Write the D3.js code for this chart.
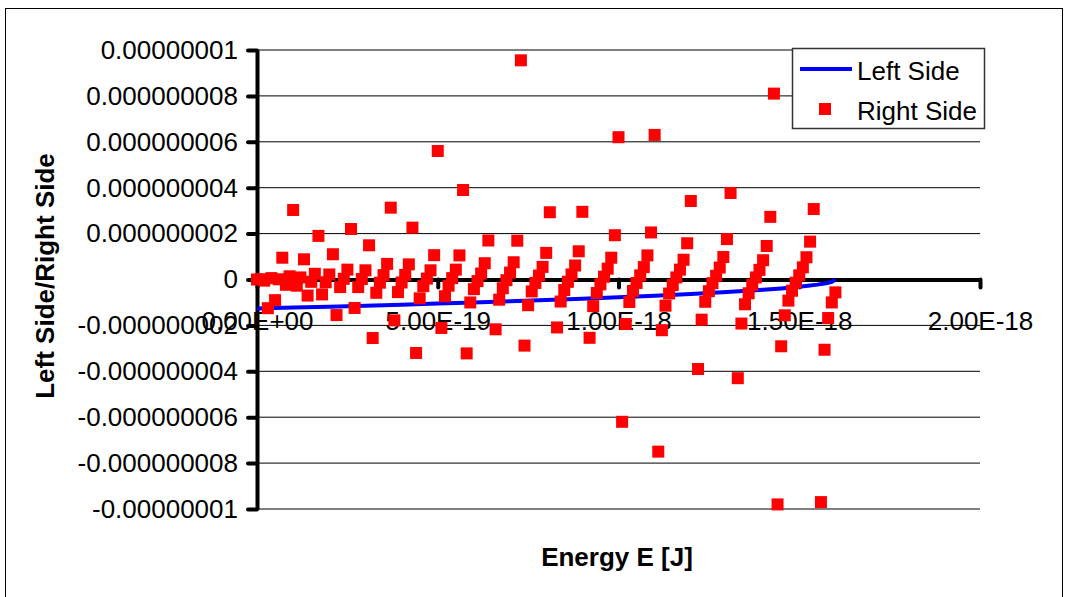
<!DOCTYPE html>
<html>
<head>
<meta charset="utf-8">
<script src="https://cdn.jsdelivr.net/npm/d3@7"></script>
<style>
  body { margin: 0; background: #fff; }
  svg text { font-family: Arial, "Liberation Sans", sans-serif; fill: #000; }
</style>
</head>
<body>
<script>
//DATA (energy in units of 1e-18 J, sides in units of 1e-9)
const energy = [
  0.00,0.01,0.02,0.03,0.04,0.05,0.06,0.07,0.08,0.09,
  0.10,0.11,0.12,0.13,0.14,0.15,0.16,0.17,0.18,0.19,
  0.20,0.21,0.22,0.23,0.24,0.25,0.26,0.27,0.28,0.29,
  0.30,0.31,0.32,0.33,0.34,0.35,0.36,0.37,0.38,0.39,
  0.40,0.41,0.42,0.43,0.44,0.45,0.46,0.47,0.48,0.49,
  0.50,0.51,0.52,0.53,0.54,0.55,0.56,0.57,0.58,0.59,
  0.60,0.61,0.62,0.63,0.64,0.65,0.66,0.67,0.68,0.69,
  0.70,0.71,0.72,0.73,0.74,0.75,0.76,0.77,0.78,0.79,
  0.80,0.81,0.82,0.83,0.84,0.85,0.86,0.87,0.88,0.89,
  0.90,0.91,0.92,0.93,0.94,0.95,0.96,0.97,0.98,0.99,
  1.00,1.01,1.02,1.03,1.04,1.05,1.06,1.07,1.08,1.09,
  1.10,1.11,1.12,1.13,1.14,1.15,1.16,1.17,1.18,1.19,
  1.20,1.21,1.22,1.23,1.24,1.25,1.26,1.27,1.28,1.29,
  1.30,1.31,1.32,1.33,1.34,1.35,1.36,1.37,1.38,1.39,
  1.40,1.41,1.42,1.43,1.44,1.45,1.46,1.47,1.48,1.49,
  1.50,1.51,1.52,1.53,1.54,1.55,1.56,1.57,1.58,1.59,
  1.60
];
// null = off the chart / not visible
const rightSide = [
  0,0.01,-0.05,-1.25,0.06,-0.9,0.01,0.95,-0.23,0.14,
  3.03,-0.27,0.09,0.88,-0.7,-0.1,0.25,1.9,-0.65,-0.12,
  0.22,1.1,-1.55,-0.33,0.03,0.43,2.2,-1.24,-0.33,0.02,
  0.4,1.49,-2.55,-0.58,-0.14,0.19,0.68,3.13,-1.78,-0.55,
  -0.13,0.2,0.66,2.26,-3.2,-0.82,-0.29,0.04,0.4,1.06,
  5.6,-2.11,-0.73,-0.27,0.06,0.43,1.05,3.9,-3.22,-1.0,
  -0.42,-0.07,0.26,0.71,1.7,null,-2.17,-0.88,-0.38,-0.03,
  0.3,0.75,1.69,9.55,-2.88,-1.12,-0.52,-0.15,0.17,0.55,
  1.16,2.93,null,-2.09,-0.96,-0.46,-0.1,0.22,0.61,1.23,
  2.95,null,-2.54,-1.16,-0.59,-0.21,0.12,0.47,0.95,1.93,
  6.2,-6.2,-1.94,-0.98,-0.5,-0.15,0.18,0.54,1.05,2.05,
  6.3,-7.5,-2.21,-1.14,-0.61,-0.24,0.09,0.43,0.86,1.58,
  3.42,null,-3.9,-1.75,-0.97,-0.51,-0.16,0.16,0.52,0.98,
  1.76,3.77,null,-4.3,-1.92,-1.08,-0.6,-0.24,0.09,0.42,
  0.84,1.46,2.73,8.1,-9.8,-2.91,-1.56,-0.92,-0.49,-0.14,
  0.18,0.53,0.97,1.65,3.07,null,-9.7,-3.06,-1.68,-1.0,
  -0.56
];
const leftEnergy = [0,0.1,0.2,0.3,0.4,0.5,0.6,0.7,0.8,0.9,1.0,1.1,1.2,1.3,1.4,1.45,1.5,1.53,1.55,1.57,1.58,1.59,1.6];
const leftSide = [-1.265,-1.225,-1.183,-1.14,-1.095,-1.049,-1.0,-0.949,-0.894,-0.837,-0.775,-0.707,-0.632,-0.548,-0.447,-0.387,-0.316,-0.265,-0.224,-0.173,-0.141,-0.1,0];

const yTicks = [-1e-8,-8e-9,-6e-9,-4e-9,-2e-9,0,2e-9,4e-9,6e-9,8e-9,1e-8];
const yTickLabels = ["-0.00000001","-0.000000008","-0.000000006","-0.000000004","-0.000000002","0",
  "0.000000002","0.000000004","0.000000006","0.000000008","0.00000001"];
const xTicks = [0,5e-19,1e-18,1.5e-18,2e-18];
const xTickLabels = ["0.00E+00","5.00E-19","1.00E-18","1.50E-18","2.00E-18"];

//SIZES
const W = 1068, H = 597;
const plotL = 257, plotR = 980, plotT = 50, plotB = 509;

const svg = d3.select("body").append("svg")
  .attr("width", W).attr("height", H);

//CHART BORDER
svg.append("rect")
  .attr("x", 5.5).attr("y", 8.5)
  .attr("width", 1057).attr("height", 600)
  .attr("fill", "#fff").attr("stroke", "#000").attr("stroke-width", 1);

//SCALES
const x = d3.scaleLinear().domain([0, 2e-18]).range([plotL, plotR]);
const y = d3.scaleLinear().domain([-1e-8, 1e-8]).range([plotB, plotT]);

//GRIDLINES
svg.append("g").selectAll("line")
  .data(yTicks.filter(d => d !== 0))
  .join("line")
  .attr("x1", plotL).attr("x2", plotR)
  .attr("y1", d => y(d)).attr("y2", d => y(d))
  .attr("stroke", "#000").attr("stroke-width", 1);

//Y AXIS
const yAxis = svg.append("g")
  .attr("transform", `translate(${plotL},0)`)
  .call(d3.axisLeft(y).tickValues(yTicks)
    .tickFormat((d, i) => yTickLabels[i])
    .tickSize(9).tickSizeOuter(0).tickPadding(10));
yAxis.select(".domain").attr("stroke-width", 4);
yAxis.selectAll(".tick line").attr("stroke-width", 4).attr("stroke-linecap", "round");
yAxis.selectAll("text").attr("font-size", 26).attr("font-family", "Arial, 'Liberation Sans', sans-serif");

//X AXIS (at zero)
const xAxis = svg.append("g")
  .attr("transform", `translate(0,${y(0)})`)
  .call(d3.axisBottom(x).tickValues(xTicks)
    .tickFormat((d, i) => xTickLabels[i])
    .tickSize(8).tickSizeOuter(0).tickPadding(24));
xAxis.select(".domain").attr("stroke-width", 4);
xAxis.selectAll(".tick line").attr("stroke-width", 4).attr("stroke-linecap", "round");
xAxis.selectAll("text").attr("font-size", 26).attr("font-family", "Arial, 'Liberation Sans', sans-serif");

//LEFT SIDE LINE
const line = d3.line()
  .x((d, i) => x(leftEnergy[i] * 1e-18))
  .y(d => y(d * 1e-9));
svg.append("path")
  .datum(leftSide)
  .attr("d", line)
  .attr("fill", "none")
  .attr("stroke", "#0000ff")
  .attr("stroke-width", 4);

//RIGHT SIDE MARKERS
const ms = 12;
const pts = energy.map((e, i) => ({ e: e * 1e-18, v: rightSide[i] }))
  .filter(d => d.v !== null && Math.abs(d.v) <= 10);
svg.append("g").selectAll("rect")
  .data(pts)
  .join("rect")
  .attr("x", d => x(d.e) - ms / 2)
  .attr("y", d => y(d.v * 1e-9) - ms / 2)
  .attr("width", ms).attr("height", ms)
  .attr("fill", "#ff0000");

//LEGEND
const lg = svg.append("g");
lg.append("rect")
  .attr("x", 792.5).attr("y", 48.5)
  .attr("width", 192).attr("height", 80)
  .attr("fill", "#fff").attr("stroke", "#333").attr("stroke-width", 1.5);
lg.append("line")
  .attr("x1", 800).attr("x2", 852).attr("y1", 69).attr("y2", 69)
  .attr("stroke", "#0000ff").attr("stroke-width", 4);
lg.append("rect")
  .attr("x", 825 - ms / 2).attr("y", 109 - ms / 2)
  .attr("width", ms).attr("height", ms).attr("fill", "#ff0000");
lg.append("text").attr("x", 857).attr("y", 80).attr("font-size", 26).text("Left Side");
lg.append("text").attr("x", 857).attr("y", 120).attr("font-size", 26).text("Right Side");

//AXIS TITLES
svg.append("text")
  .attr("transform", "translate(54,276) rotate(-90)")
  .attr("text-anchor", "middle")
  .attr("font-size", 26).attr("font-weight", "bold")
  .text("Left Side/Right Side");
svg.append("text")
  .attr("x", 617).attr("y", 566)
  .attr("text-anchor", "middle")
  .attr("font-size", 26).attr("font-weight", "bold")
  .text("Energy E [J]");
</script>
</body>
</html>
